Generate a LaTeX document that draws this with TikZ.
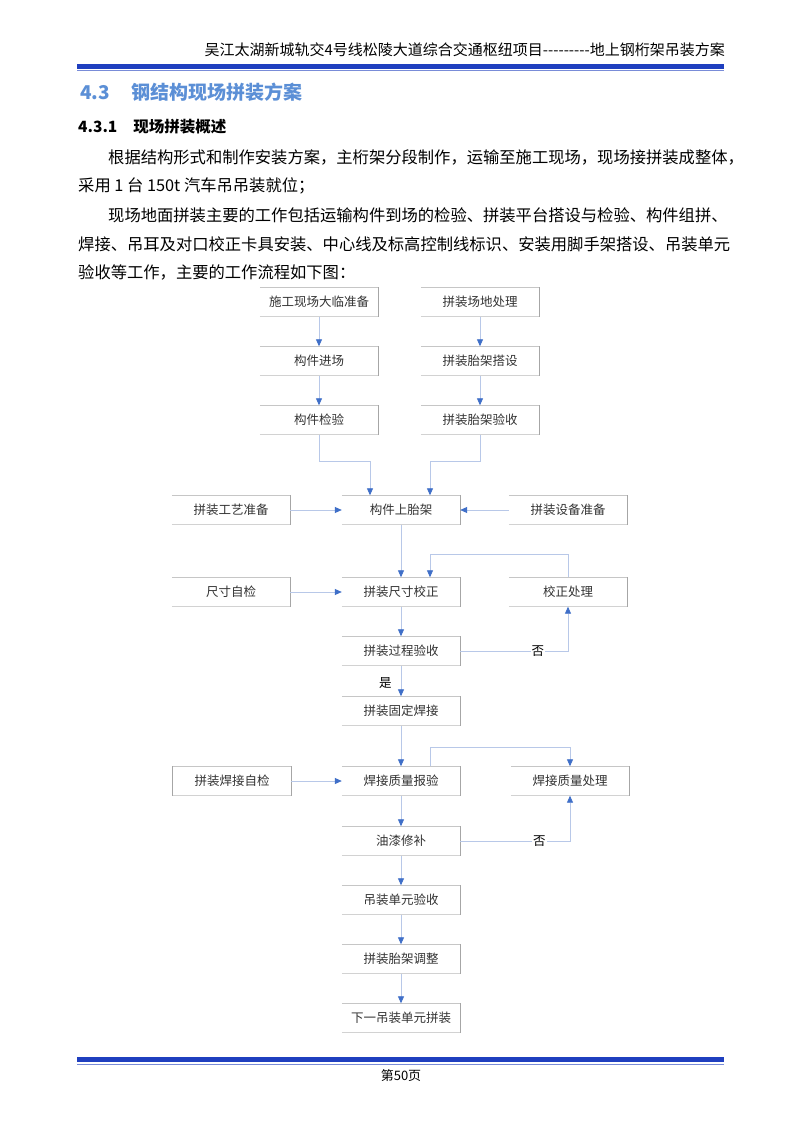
\documentclass[tikz,border=0pt]{standalone}
\usepackage{fontspec}
\setmainfont{Liberation Serif}
\newfontfamily\cjk{Noto Sans CJK SC}
\usetikzlibrary{arrows.meta}
\definecolor{hblue}{HTML}{1F3FBF}
\definecolor{tblue}{HTML}{5B8FD6}
\definecolor{lnk}{HTML}{B8C8E8}
\definecolor{tip}{HTML}{3F6FC8}
\begin{document}
\begin{tikzpicture}[x=1pt,y=-1pt,
  box/.style={minimum width=118pt,minimum height=29pt,inner sep=0pt,font=\cjk\fontsize{12.5}{14}\selectfont,text=black!80},
  edge/.style={draw=gray!70,line width=0.9pt},
  fl/.style={draw=lnk,line width=0.8pt,-{Triangle[length=7pt,width=6pt,fill=tip,color=tip]}},
  lab/.style={font=\cjk\fontsize{12.5}{14}\selectfont,fill=white,inner sep=1pt}]
\useasboundingbox (0,0) rectangle (800,1132);
\fill[white] (0,0) rectangle (800,1132);
% header
\node[anchor=east,font=\cjk\fontsize{15}{17}\selectfont,inner sep=0] (hd) at (725,50) {吴江太湖新城轨交4号线松陵大道综合交通枢纽项目---------地上钢桁架吊装方案};
\fill[hblue] (77,64) rectangle (724,69);
\fill[hblue!60] (77,70.5) rectangle (724,71.5);
\node[anchor=west,font=\cjk\bfseries\fontsize{19}{21}\selectfont,text=tblue,inner sep=0] (h1) at (80,92) {4.3\hspace{22pt}钢结构现场拼装方案};
\node[anchor=west,font=\cjk\bfseries\fontsize{15.5}{17}\selectfont,inner sep=0] (h2) at (78,127) {4.3.1\hspace{16pt}现场拼装概述};
\begin{scope}[every node/.style={anchor=west,inner sep=0,font=\cjk\fontsize{16.3}{18}\selectfont}]
\node (p1) at (108,157) {根据结构形式和制作安装方案，主桁架分段制作，运输至施工现场，现场接拼装成整体，};
\node (p2) at (78,186) {采用 1 台 150t 汽车吊吊装就位；};
\node (p3) at (108,215) {现场地面拼装主要的工作包括运输构件到场的检验、拼装平台搭设与检验、构件组拼、};
\node (p4) at (78,244) {焊接、吊耳及对口校正卡具安装、中心线及标高控制线标识、安装用脚手架搭设、吊装单元};
\node (p5) at (78,272) {验收等工作，主要的工作流程如下图：};
\end{scope}
% boxes
\foreach \n/\x/\y/\t in {a1/319/302/施工现场大临准备, b1/480/302/拼装场地处理,
  a2/319/361/构件进场, b2/480/361/拼装胎架搭设, a3/319/420/构件检验, b3/480/420/拼装胎架验收,
  l1/231/510/拼装工艺准备, c1/401/510/构件上胎架, r1/568/510/拼装设备准备,
  l2/231/592/尺寸自检, c2/401/592/拼装尺寸校正, r2/568/592/校正处理,
  c3/401/651/拼装过程验收, c4/401/711/拼装固定焊接,
  l3/232/781/拼装焊接自检, c5/401/781/焊接质量报验, r3/570/781/焊接质量处理,
  c6/401/841/油漆修补, c7/401/900/吊装单元验收, c8/401/959/拼装胎架调整, c9/401/1018/下一吊装单元拼装}{
  \node[box] (\n) at (\x,\y) {\t};
  \draw[edge,gray!45] (\n.north west) -- (\n.north east);
  \draw[edge] (\n.north east) -- (\n.south east);
  \draw[edge,gray!35] (\n.south west) -- (\n.south east);
}
\draw[edge] (l3.north west) -- (l3.south west);
% connectors
\draw[fl] (a1) -- (a2); \draw[fl] (a2) -- (a3);
\draw[fl] (b1) -- (b2); \draw[fl] (b2) -- (b3);
\draw[fl] (a3.south) -- ++(0,27) -| ([xshift=-31pt]c1.north);
\draw[fl] (b3.south) -- ++(0,27) -| ([xshift=29pt]c1.north);
\draw[fl] (l1) -- (c1); \draw[fl] (r1) -- (c1);
\draw[fl] (c1) -- (c2); \draw[fl] (l2) -- (c2);
\draw[fl] (r2.north) -- ++(0,-23) -| ([xshift=29pt]c2.north);
\draw[fl] (c3.east) -| node[lab,pos=0.36] (no1) {否} (r2.south);
\draw[fl] (c2) -- (c3);
\draw[fl] (c3) -- node[lab,left=8pt,pos=0.55] (yes) {是} (c4);
\draw[fl] (c4) -- (c5);
\draw[fl] (l3) -- (c5);
\draw[fl] ([xshift=29pt]c5.north) -- ++(0,-19) -| (r3.north);
\draw[fl] (c6.east) -| node[lab,pos=0.36] (no2) {否} (r3.south);
\draw[fl] (c5) -- (c6); \draw[fl] (c6) -- (c7); \draw[fl] (c7) -- (c8); \draw[fl] (c8) -- (c9);
% footer
\fill[hblue] (77,1057) rectangle (724,1062);
\fill[hblue!60] (77,1063.5) rectangle (724,1064.5);
\node[font=\cjk\fontsize{13}{15}\selectfont] (pg) at (401,1076) {第50页};
\end{tikzpicture}
\end{document}
